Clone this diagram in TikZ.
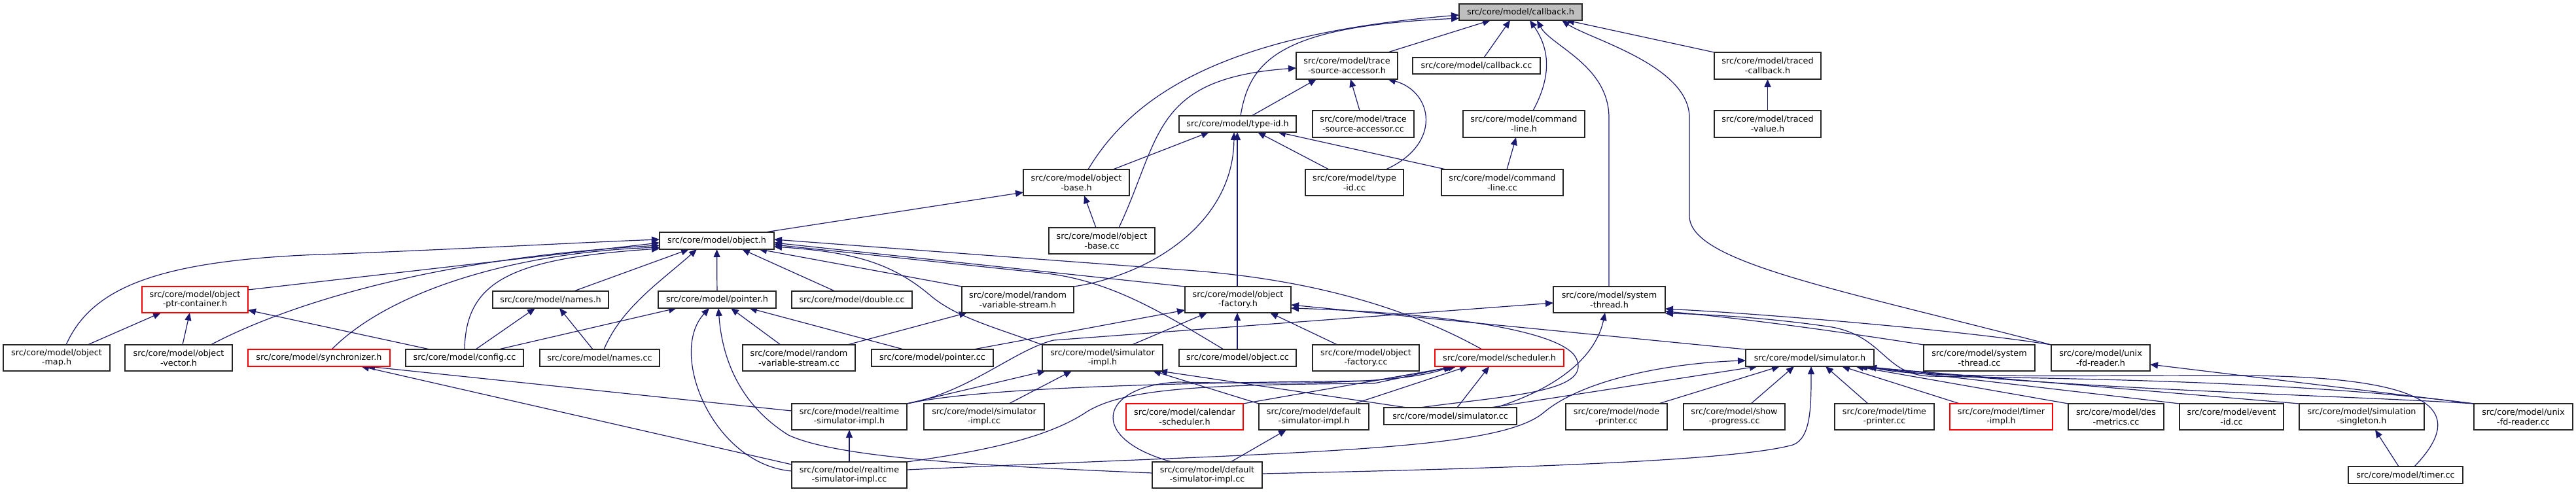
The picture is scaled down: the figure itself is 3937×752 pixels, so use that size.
\documentclass[tikz,border=0pt]{standalone}
\usepackage{fontspec}
\setmainfont{DejaVu Sans}
\usetikzlibrary{arrows.meta}
\definecolor{edgecol}{HTML}{191970}
\definecolor{cbfill}{HTML}{BFBFBF}
\pgfdeclarelayer{edgelayer}
\pgfsetlayers{edgelayer,main}
\tikzset{
  fbox/.style={draw=black!85, line width=1.3pt, fill=white, inner sep=0pt, outer sep=0pt, align=center, text=black, font=\fontsize{12.8}{14.7}\selectfont},
  redbox/.style={fbox, draw=red},
  curbox/.style={fbox, fill=cbfill},
  dep/.style={draw=edgecol, line width=1.2pt, -{Triangle[length=12pt,width=10pt]}},
}
\newcommand{\nd}[7][fbox]{\node[#1, minimum width={#4pt-#3pt}, minimum height={#6pt-#5pt}] (#2) at ({(#3+#4)/2},{(#5+#6)/2}) {#7};}
\begin{document}
\begin{tikzpicture}[x=1pt,y=-1pt]
\useasboundingbox (0,0) rectangle (3937,752);
% ---------------- nodes ----------------
\nd[curbox]{callback}{2230}{2418}{6}{31}{src/core/model/callback.h}
\nd{tsah}{1981}{2136}{80}{121}{src/core/model/trace\\-source-accessor.h}
\nd{callbackcc}{2159}{2354}{88}{113}{src/core/model/callback.cc}
\nd{tracedcb}{2620}{2783}{80}{121}{src/core/model/traced\\-callback.h}
\nd{typeidh}{1802}{1981}{177}{202}{src/core/model/type-id.h}
\nd{tsacc}{2006}{2161}{169}{210}{src/core/model/trace\\-source-accessor.cc}
\nd{cmdh}{2236}{2422}{169}{210}{src/core/model/command\\-line.h}
\nd{tracedval}{2620}{2783}{169}{210}{src/core/model/traced\\-value.h}
\nd{objbaseh}{1564}{1726}{259}{299}{src/core/model/object\\-base.h}
\nd{typeidcc}{1995}{2145}{259}{299}{src/core/model/type\\-id.cc}
\nd{cmdcc}{2203}{2389}{259}{299}{src/core/model/command\\-line.cc}
\nd{objecth}{1008}{1183}{355}{381}{src/core/model/object.h}
\nd{objbasecc}{1603}{1765}{348}{388}{src/core/model/object\\-base.cc}
\nd[redbox]{objptr}{217}{379}{438}{478}{src/core/model/object\\-ptr-container.h}
\nd{namesh}{753}{930}{445}{471}{src/core/model/names.h}
\nd{pointerh}{1006}{1186}{445}{471}{src/core/model/pointer.h}
\nd{doublecc}{1210}{1394}{445}{471}{src/core/model/double.cc}
\nd{rvsh}{1470}{1641}{438}{478}{src/core/model/random\\-variable-stream.h}
\nd{objfacth}{1811}{1973}{438}{478}{src/core/model/object\\-factory.h}
\nd{systhreadh}{2374}{2545}{438}{478}{src/core/model/system\\-thread.h}
\nd{objmap}{5}{168}{527}{567}{src/core/model/object\\-map.h}
\nd{objvec}{191}{355}{527}{567}{src/core/model/object\\-vector.h}
\nd[redbox]{synch}{379}{596}{534}{560}{src/core/model/synchronizer.h}
\nd{configcc}{620}{800}{534}{560}{src/core/model/config.cc}
\nd{namescc}{825}{1008}{534}{560}{src/core/model/names.cc}
\nd{rvscc}{1135}{1307}{527}{567}{src/core/model/random\\-variable-stream.cc}
\nd{pointercc}{1332}{1518}{534}{560}{src/core/model/pointer.cc}
\nd{simimplh}{1593}{1777}{527}{567}{src/core/model/simulator\\-impl.h}
\nd{objectcc}{1802}{1981}{534}{560}{src/core/model/object.cc}
\nd{objfactcc}{2006}{2169}{527}{567}{src/core/model/object\\-factory.cc}
\nd[redbox]{schedh}{2193}{2390}{534}{560}{src/core/model/scheduler.h}
\nd{simh}{2668}{2864}{534}{560}{src/core/model/simulator.h}
\nd{systhreadcc}{2940}{3110}{527}{567}{src/core/model/system\\-thread.cc}
\nd{unixfdh}{3135}{3286}{527}{567}{src/core/model/unix\\-fd-reader.h}
\nd{rsih}{1210}{1386}{617}{657}{src/core/model/realtime\\-simulator-impl.h}
\nd{simimplcc}{1412}{1596}{617}{657}{src/core/model/simulator\\-impl.cc}
\nd[redbox]{calsched}{1721}{1900}{617}{657}{src/core/model/calendar\\-scheduler.h}
\nd{defsimh}{1924}{2092}{617}{657}{src/core/model/default\\-simulator-impl.h}
\nd{simcc}{2115}{2318}{623}{649}{src/core/model/simulator.cc}
\nd{nodeprinter}{2393}{2548}{617}{657}{src/core/model/node\\-printer.cc}
\nd{showprog}{2573}{2728}{617}{657}{src/core/model/show\\-progress.cc}
\nd{timeprinter}{2804}{2956}{617}{657}{src/core/model/time\\-printer.cc}
\nd[redbox]{timerimpl}{2980}{3137}{617}{657}{src/core/model/timer\\-impl.h}
\nd{desmetrics}{3161}{3307}{617}{657}{src/core/model/des\\-metrics.cc}
\nd{eventid}{3331}{3490}{617}{657}{src/core/model/event\\-id.cc}
\nd{simsingleton}{3514}{3705}{617}{657}{src/core/model/simulation\\-singleton.h}
\nd{unixfdcc}{3781}{3932}{617}{657}{src/core/model/unix\\-fd-reader.cc}
\nd{rsicc}{1210}{1386}{706}{746}{src/core/model/realtime\\-simulator-impl.cc}
\nd{defsimcc}{1761}{1929}{706}{746}{src/core/model/default\\-simulator-impl.cc}
\nd{timercc}{3589}{3764}{713}{739}{src/core/model/timer.cc}
% ---------------- edges ----------------
\begin{pgfonlayer}{edgelayer}
% into callback.h
\draw[dep] (tsah.north -| 2121,0) -- (callback.south -| 2278,0);
\draw[dep] (callbackcc.north -| 2268,0) -- (callback.south -| 2308,0);
\draw[dep] (cmdh.north -| 2343,0) .. controls (2375,110) and (2365,70) .. (callback.south -| 2338,0);
\draw[dep] (systhreadh.north -| 2459,0) -- (2459,180) .. controls (2459,100) and (2370,70) .. (callback.south -| 2349,0);
\draw[dep] (unixfdh.north west) .. controls (2800,440) and (2582,400) .. (2582,330) -- (2582,180) .. controls (2582,100) and (2430,60) .. (callback.south -| 2387,0);
\draw[dep] (tracedcb.north west) -- (callback.south -| 2394,0);
\draw[dep] (typeidh.north -| 1896,0) .. controls (1910,90) and (1960,40) .. (callback.west |- 0,28);
\draw[dep] (objbaseh.north -| 1663,0) .. controls (1740,130) and (1900,50) .. (callback.west |- 0,23);
% into trace-source-accessor.h
\draw[dep] (typeidh.north -| 1913,0) -- (tsah.south -| 2012,0);
\draw[dep] (tsacc.north -| 2078,0) -- (tsah.south -| 2064,0);
\draw[dep] (typeidcc.north -| 2118,0) .. controls (2205,220) and (2190,140) .. (tsah.south -| 2121,0);
\draw[dep] (objbasecc.north -| 1710,0) .. controls (1775,210) and (1760,120) .. (tsah.west |- 0,104);
% into type-id.h
\draw[dep] (objbaseh.north -| 1701,0) -- (typeidh.south -| 1848,0);
\draw[dep] (typeidcc.north -| 2031,0) -- (typeidh.south -| 1922,0);
\draw[dep] (cmdcc.north -| 2210,0) -- (typeidh.south -| 1953,0);
\draw[dep] (objfacth.north -| 1891,0) -- (typeidh.south -| 1891,0);
\draw[dep] (rvsh.north east) .. controls (1760,420) and (1885,340) .. (typeidh.south -| 1886,0);
% command-line, traced
\draw[dep] (cmdcc.north -| 2303,0) -- (cmdh.south -| 2317,0);
\draw[dep] (tracedval) -- (tracedcb);
% into object-base.h
\draw[dep] (objecth.north -| 1169,0) -- (objbaseh.west |- 0,294);
\draw[dep] (objbasecc.north -| 1675,0) -- (objbaseh.south -| 1657,0);
% into object.h
\draw[dep] (objmap.north -| 101,0) .. controls (140,440) and (240,395) .. (520,388) .. controls (760,378) and (900,370) .. (objecth.west |- 0,366);
\draw[dep] (objptr.east |- 0,443) -- (objecth.west |- 0,371);
\draw[dep] (objvec.north -| 322,0) .. controls (430,470) and (650,395) .. (objecth.west |- 0,375);
\draw[dep] (synch.north -| 507,0) .. controls (600,440) and (800,385) .. (objecth.west |- 0,378);
\draw[dep] (configcc.north -| 710,0) .. controls (712,430) and (780,395) .. (objecth.west |- 0,380);
\draw[dep] (namesh.north -| 877,0) -- (objecth.south -| 1053,0);
\draw[dep] (namescc.north -| 923,0) .. controls (950,470) and (1010,430) .. (objecth.south -| 1065,0);
\draw[dep] (pointerh) -- (objecth);
\draw[dep] (doublecc.north -| 1276,0) -- (objecth.south -| 1134,0);
\draw[dep] (rvsh.north west) -- (objecth.south -| 1160,0);
\draw[dep] (objfacth.north west) -- (objecth.east |- 0,371);
\draw[dep] (simimplh.north west) .. controls (1520,500) and (1460,485) .. (1420,450) .. controls (1360,400) and (1300,385) .. (objecth.east |- 0,377);
\draw[dep] (objectcc.north -| 1870,0) .. controls (1780,480) and (1700,430) .. (1600,418) -- (objecth.east |- 0,374);
\draw[dep] (schedh.north -| 2265,0) .. controls (2150,470) and (2000,425) .. (1800,412) -- (objecth.east |- 0,366);
% into names.h and object-ptr-container.h
\draw[dep] (configcc.north -| 727,0) -- (namesh.south -| 818,0);
\draw[dep] (namescc.north -| 906,0) -- (namesh.south -| 855,0);
\draw[dep] (objmap.north -| 134,0) -- (objptr.south -| 246,0);
\draw[dep] (objvec.north -| 279,0) -- (objptr.south -| 290,0);
\draw[dep] (configcc.north -| 657,0) -- (objptr.east |- 0,474);
% into pointer.h
\draw[dep] (configcc.north -| 762,0) -- (pointerh.south -| 1034,0);
\draw[dep] (rvscc.north -| 1193,0) -- (pointerh.south -| 1117,0);
\draw[dep] (pointercc.north -| 1381,0) -- (pointerh.south -| 1145,0);
\draw[dep] (rsicc.west |- 0,720) .. controls (1090,710) and (1020,540) .. (pointerh.south -| 1084,0);
\draw[dep] (defsimcc.west |- 0,723) .. controls (1500,712) and (1280,700) .. (1205,665) .. controls (1125,615) and (1103,540) .. (pointerh.south -| 1098,0);
% into random-variable-stream.h
\draw[dep] (rvscc.north -| 1295,0) -- (rvsh.south -| 1478,0);
% into object-factory.h
\draw[dep] (pointercc.north -| 1488,0) -- (objfacth.west |- 0,474);
\draw[dep] (simimplh.north -| 1730,0) -- (objfacth.south -| 1845,0);
\draw[dep] (objectcc.north -| 1891,0) -- (objfacth.south -| 1891,0);
\draw[dep] (objfactcc.north -| 2044,0) -- (objfacth.south -| 1941,0);
\draw[dep] (simh.north west) -- (objfacth.east |- 0,466);
\draw[dep] (simcc.north -| 2170,0) .. controls (2300,605) and (2430,600) .. (2410,550) .. controls (2395,505) and (2200,478) .. (objfacth.east |- 0,471);
% into system-thread.h
\draw[dep] (rsih.north east) .. controls (1480,600) and (1550,535) .. (1610,520) -- (systhreadh.west |- 0,463);
\draw[dep] (simcc.north -| 2286,0) .. controls (2390,590) and (2440,540) .. (systhreadh.south -| 2453,0);
\draw[dep] (systhreadcc.north west) .. controls (2800,505) and (2650,485) .. (systhreadh.east |- 0,476);
\draw[dep] (unixfdh.north west) .. controls (3000,505) and (2700,480) .. (systhreadh.east |- 0,472);
\draw[dep] (unixfdcc.north west) .. controls (3500,580) and (3100,578) .. (2950,575) .. controls (2880,573) and (2880,515) .. (2800,500) .. controls (2700,485) and (2600,480) .. (systhreadh.east |- 0,479);
% into scheduler.h
\draw[dep] (calsched.north east) -- (schedh.south -| 2226,0);
\draw[dep] (defsimh.north -| 2070,0) -- (schedh.south -| 2243,0);
\draw[dep] (rsih.north east) .. controls (1500,592) and (1800,585) .. (2100,582) -- (schedh.south -| 2225,0);
\draw[dep] (rsicc.north east) .. controls (1500,690) and (1600,670) .. (1660,630) .. controls (1720,592) and (1850,588) .. (2100,586) -- (schedh.south -| 2222,0);
\draw[dep] (defsimcc.north -| 1791,0) .. controls (1660,670) and (1680,590) .. (1800,584) .. controls (2000,588) and (2150,585) .. (schedh.south -| 2218,0);
\draw[dep] (simcc.north -| 2227,0) -- (schedh.south -| 2276,0);
% into simulator-impl.h
\draw[dep] (rsih.north east) -- (simimplh.south -| 1598,0);
\draw[dep] (simimplcc.north -| 1542,0) -- (simimplh.south -| 1638,0);
\draw[dep] (defsimh.north west) -- (simimplh.south -| 1762,0);
\draw[dep] (simcc.north -| 2150,0) -- (simimplh.south -| 1772,0);
% into synchronizer.h and realtime / default headers
\draw[dep] (rsih.west |- 0,628) -- (synch.south -| 561,0);
\draw[dep] (rsicc.west |- 0,710) -- (synch.south -| 552,0);
\draw[dep] (rsicc) -- (rsih);
\draw[dep] (defsimcc.north -| 1881,0) -- (defsimh.south -| 1966,0);
% into simulator.h
\draw[dep] (rsicc.east |- 0,718) .. controls (2000,690) and (2290,690) .. (2360,630) .. controls (2420,580) and (2550,555) .. (simh.west |- 0,551);
\draw[dep] (defsimcc.east |- 0,724) .. controls (2300,716) and (2650,705) .. (2740,680) .. controls (2768,670) and (2768,620) .. (simh.south -| 2768,0);
\draw[dep] (simcc.north -| 2278,0) -- (simh.south -| 2686,0);
\draw[dep] (nodeprinter.north -| 2535,0) -- (simh.south -| 2720,0);
\draw[dep] (showprog.north -| 2676,0) -- (simh.south -| 2742,0);
\draw[dep] (timeprinter.north -| 2855,0) -- (simh.south -| 2790,0);
\draw[dep] (timerimpl.north -| 2995,0) -- (simh.south -| 2815,0);
\draw[dep] (desmetrics.north west) -- (simh.south -| 2836,0);
\draw[dep] (eventid.north west) -- (simh.south -| 2842,0);
\draw[dep] (simsingleton.north west) -- (simh.south -| 2840,0);
\draw[dep] (unixfdcc.north west) .. controls (3600,605) and (3150,595) .. (simh.south -| 2851,0);
\draw[dep] (timercc.north -| 3690,0) .. controls (3770,630) and (3730,575) .. (3420,574) .. controls (3100,574) and (2930,578) .. (simh.south -| 2856,0);
% remaining
\draw[dep] (timercc.north -| 3666,0) -- (simsingleton.south -| 3630,0);
\draw[dep] (unixfdcc.north west) -- (unixfdh.east |- 0,557);
\end{pgfonlayer}
\end{tikzpicture}
\end{document}
